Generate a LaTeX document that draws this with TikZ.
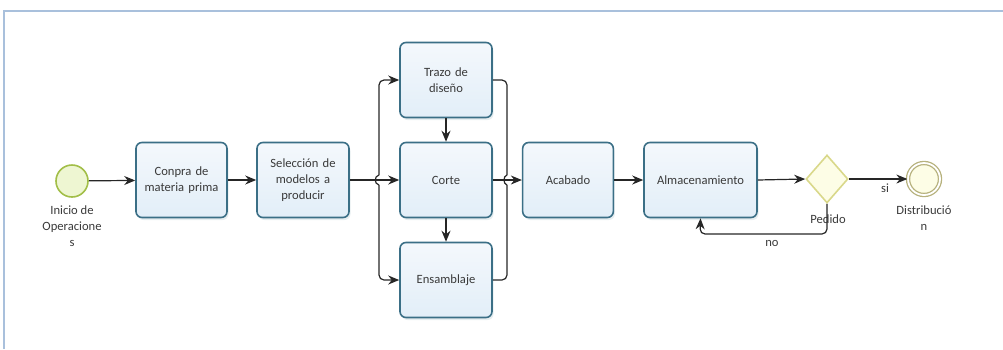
\documentclass[tikz,border=0pt]{standalone}
\usepackage{fontspec}
\setmainfont{Carlito}
\usetikzlibrary{shapes.geometric,arrows.meta,shadows,calc}
\definecolor{frameblue}{HTML}{A9C0DC}
\definecolor{taskedge}{HTML}{3B6F86}
\definecolor{tasktop}{HTML}{F4F8FC}
\definecolor{taskbot}{HTML}{E2EEF8}
\definecolor{startedge}{HTML}{A2BE48}
\definecolor{startfill}{HTML}{EEF6D2}
\definecolor{gateedge}{HTML}{D9D88A}
\definecolor{gatefill}{HTML}{FDFDE6}
\definecolor{endedge}{HTML}{B7B27E}
\definecolor{lineclr}{HTML}{262626}
\definecolor{txt}{HTML}{3A3A3A}
\tikzset{
  task/.style={rectangle, rounded corners=6pt, draw=taskedge, line width=1.6pt,
    top color=tasktop, bottom color=taskbot, minimum height=75pt,
    text width=84pt, align=center, font=\fontsize{12.6}{16}\selectfont, text=txt,
    drop shadow={shadow xshift=1.5pt, shadow yshift=-2.5pt, fill=taskedge!35, opacity=0.35}},
  startev/.style={circle, draw=startedge, line width=1.6pt, fill=startfill,
    minimum size=32pt, inner sep=0pt},
  endev/.style={circle, draw=endedge, line width=1.3pt, double=white,
    double distance=1.8pt, fill=gatefill, minimum size=32pt, inner sep=0pt},
  gate/.style={diamond, draw=gateedge, line width=1.6pt, fill=gatefill,
    minimum width=42pt, minimum height=48pt, inner sep=0pt},
  lbl/.style={font=\fontsize{12.6}{16}\selectfont, text=txt, align=center, inner sep=0pt},
  flow/.style={draw=lineclr, line width=1.2pt, -{Stealth[length=11pt,width=9pt]}},
  plain/.style={draw=lineclr, line width=1.2pt},
}
\begin{document}
\begin{tikzpicture}[x=1pt,y=-1pt]
\useasboundingbox (0,0) rectangle (1003,349);
% page frame
\draw[frameblue, line width=1.5pt] (4,349) -- (4,11) -- (1003,11);

% events and tasks
\node[startev] (start) at (72,181) {};
\node[lbl, anchor=north] (startlbl) at (72,206) {Inicio de\\Operacione\\s};
\node[task, minimum width=91pt] (compra) at (181.5,180) {Conpra de\\materia prima};
\node[task, minimum width=92pt] (selec) at (303,180) {Selección de\\modelos a\\producir};
\node[task, minimum width=92pt] (trazo) at (446,80) {Trazo de\\diseño};
\node[task, minimum width=92pt] (corte) at (446,180) {Corte};
\node[task, minimum width=92pt] (ensam) at (446,280) {Ensamblaje};
\node[task, minimum width=90pt] (acab) at (568,180) {Acabado};
\node[task, minimum width=113pt, text width=105pt] (almac) at (700.5,180) {Almacenamiento};
\node[gate] (pedido) at (827,179) {};
\node[lbl] (pedlbl) at (828,219) {Pedido};
\node[endev] (fin) at (924,179) {};
\node[lbl, anchor=north] (finlbl) at (924,206) {Distribució\\n};

% junction points
\coordinate (split) at (379,180);
\coordinate (merge) at (507,180);
\coordinate (back) at (700,234);

% sequence flows
\draw[flow] (start) -- (compra);
\draw[flow] (compra) -- (selec);
\draw[flow] (selec.east) -- (corte.west);
\draw[flow, rounded corners=5pt] ($(split)+(0,-5)$) -- (split |- trazo.west) -- (trazo.west);
\draw[flow, rounded corners=5pt] ($(split)+(0,5)$) -- (split |- ensam.west) -- (ensam.west);
\draw[plain] ($(split)+(0,-5)$) .. controls ($(split)+(-5,-4)$) and ($(split)+(-5,4)$) .. ($(split)+(0,5)$);
\draw[flow] (trazo) -- (corte);
\draw[flow] (corte) -- (ensam);
\draw[plain, rounded corners=5pt] (trazo.east) -- (merge |- trazo.east) -- ($(merge)+(0,-5)$);
\draw[plain, rounded corners=5pt] (ensam.east) -- (merge |- ensam.east) -- ($(merge)+(0,5)$);
\draw[plain] ($(merge)+(0,-5)$) .. controls ($(merge)+(-4,-4)$) and ($(merge)+(-4,4)$) .. ($(merge)+(0,5)$);
\draw[flow] (corte.east) -- (acab.west);
\draw[flow] (acab) -- (almac);
\draw[flow] (almac.east) -- (pedido.west);
\draw[flow] (pedido.east) -- node[lbl, below=4pt, pos=0.62] {si} (fin.west);
\draw[flow, rounded corners=5pt] (pedido.south) |- (back) -- (almac.south);
\node[lbl] (nolbl) at (772,243) {no};
\end{tikzpicture}
\end{document}
